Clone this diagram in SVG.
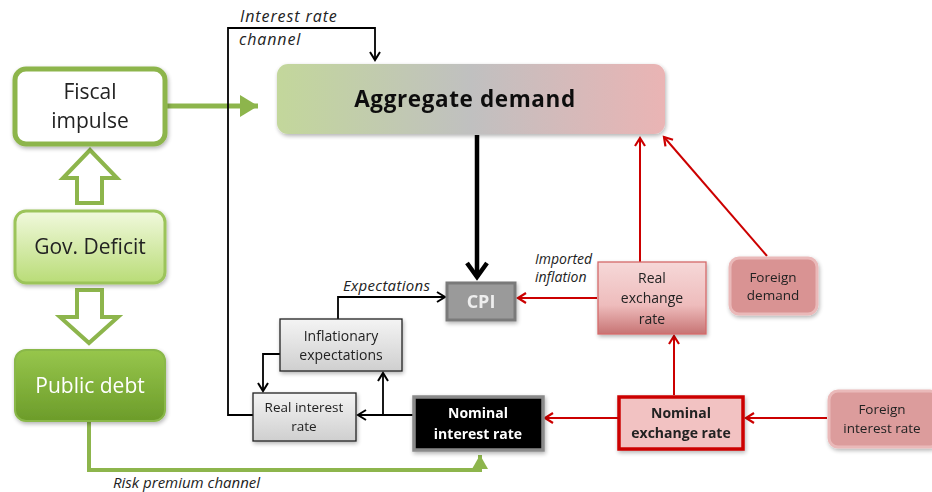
<svg xmlns="http://www.w3.org/2000/svg" width="932" height="492" viewBox="0 0 932 492">
<defs>
<style>
text{font-family:"Open Sans","Noto Sans","Liberation Sans",sans-serif;text-anchor:middle;fill:#222}
.it{font-style:italic;font-size:14px;text-anchor:start;fill:#222}
.sm{font-size:14px}
.big{font-size:21px}
.bold{font-weight:bold}
.blk{fill:none;stroke:#000;stroke-width:1.8}
.red{fill:none;stroke:#cc0000;stroke-width:2}
.grn{fill:none;stroke:#8db54c;stroke-width:5}
</style>
<filter id="sh" x="-10%" y="-10%" width="130%" height="140%"><feGaussianBlur in="SourceAlpha" stdDeviation="2"/><feOffset dx="1" dy="2"/><feComponentTransfer><feFuncA type="linear" slope="0.3"/></feComponentTransfer><feMerge><feMergeNode/><feMergeNode in="SourceGraphic"/></feMerge></filter>
<linearGradient id="gAD" x1="0" y1="0" x2="1" y2="0"><stop offset="0" stop-color="#c3d79b"/><stop offset="0.5" stop-color="#c0c0c0"/><stop offset="1" stop-color="#eab4b4"/></linearGradient>
<linearGradient id="gGov" x1="0" y1="0" x2="0" y2="1"><stop offset="0" stop-color="#f1f9dd"/><stop offset="1" stop-color="#b9dc77"/></linearGradient>
<linearGradient id="gPub" x1="0" y1="0" x2="0" y2="1"><stop offset="0" stop-color="#97c64c"/><stop offset="1" stop-color="#6c9c2a"/></linearGradient>
<linearGradient id="gGrey" x1="0" y1="0" x2="0" y2="1"><stop offset="0" stop-color="#f4f4f4"/><stop offset="1" stop-color="#cfcfcf"/></linearGradient>
<linearGradient id="gRex" x1="0" y1="0" x2="0" y2="1"><stop offset="0" stop-color="#f6d8d8"/><stop offset="0.6" stop-color="#eebcbc"/><stop offset="1" stop-color="#c77474"/></linearGradient>
<marker id="aB" markerUnits="userSpaceOnUse" markerWidth="14" markerHeight="14" refX="11" refY="7" orient="auto"><path d="M3,2 L11,7 L3,12" fill="none" stroke="#000" stroke-width="2"/></marker>
<marker id="aBB" markerUnits="userSpaceOnUse" markerWidth="24" markerHeight="24" refX="20" refY="12" orient="auto"><path d="M6,2 L20,12 L6,22" fill="none" stroke="#000" stroke-width="4.5"/></marker>
<marker id="aR" markerUnits="userSpaceOnUse" markerWidth="14" markerHeight="14" refX="11" refY="7" orient="auto"><path d="M3,2 L11,7 L3,12" fill="none" stroke="#cc0000" stroke-width="2.2"/></marker>
<marker id="aG" markerUnits="userSpaceOnUse" markerWidth="20" markerHeight="22" refX="18" refY="11" orient="auto"><path d="M0,0 L18,11 L0,22 Z" fill="#8db54c"/></marker>
<marker id="aGs" markerUnits="userSpaceOnUse" markerWidth="16" markerHeight="16" refX="14" refY="8" orient="auto"><path d="M0,0 L14,8 L0,16 Z" fill="#8db54c"/></marker>
</defs>
<rect width="932" height="492" fill="#fff"/>

<g id="connectors">
<path class="grn" d="M166,106 H258" marker-end="url(#aG)"/>
<path d="M77,203 V178 H63 L90,150 L117,178 H102 V203 Z" fill="#fff" stroke="#8db54c" stroke-width="4" stroke-linejoin="miter"/>
<path d="M77,290 V317 H60 L89,343 L118,317 H102 V290 Z" fill="#fff" stroke="#8db54c" stroke-width="4" stroke-linejoin="miter"/>
<path class="grn" style="stroke-width:4" d="M89,421 V470 H480 V455" marker-end="url(#aGs)"/>
<path class="blk" d="M253,415 H228 V28 H375 V60" marker-end="url(#aB)"/>
<path d="M477,135 V277" fill="none" stroke="#000" stroke-width="4.5" marker-end="url(#aBB)"/>
<path class="blk" d="M338,319 V297 H445" marker-end="url(#aB)"/>
<path class="blk" d="M280,354 H263 V391" marker-end="url(#aB)"/>
<path class="blk" d="M413,415 H358" marker-end="url(#aB)"/>
<path class="blk" d="M383,415 V373" marker-end="url(#aB)"/>
<path class="red" d="M597,298 H518" marker-end="url(#aR)"/>
<path class="red" d="M640,262 V138" marker-end="url(#aR)"/>
<path class="red" d="M767,256 L664,137" marker-end="url(#aR)"/>
<path class="red" d="M674,395 V336" marker-end="url(#aR)"/>
<path class="red" d="M827,418 H746" marker-end="url(#aR)"/>
<path class="red" d="M618,418 H545" marker-end="url(#aR)"/>
<text class="it" x="240" y="22" style="font-size:16px;letter-spacing:0.9px">Interest rate</text>
<text class="it" x="239" y="45" style="font-size:16px;letter-spacing:0.9px">channel</text>
<text class="it" x="343" y="291" style="font-size:15px;letter-spacing:0.3px">Expectations</text>
<text class="it" x="535" y="264">Imported</text>
<text class="it" x="535" y="282">inflation</text>
<text class="it" x="113" y="488" style="font-size:15px">Risk premium channel</text>
</g>

<g id="fiscal" filter="url(#sh)">
<rect x="15" y="69" width="150" height="75" rx="11" fill="#fff" stroke="#8db54c" stroke-width="5"/>
<text class="big" x="90" y="99">Fiscal</text>
<text class="big" x="90" y="128">impulse</text>
</g>
<g id="gov" filter="url(#sh)">
<rect x="15" y="211" width="150" height="72" rx="11" fill="url(#gGov)" stroke="#9cc45a" stroke-width="3"/>
<text class="big" x="90" y="254">Gov. Deficit</text>
</g>
<g id="public" filter="url(#sh)">
<rect x="15" y="350" width="150" height="71" rx="11" fill="url(#gPub)" stroke="#8ab84a" stroke-width="2"/>
<text class="big" x="90" y="393" style="fill:#fff">Public debt</text>
</g>
<g id="ad" filter="url(#sh)">
<rect x="277" y="64" width="388" height="70" rx="11" fill="url(#gAD)"/>
<text class="bold" x="465" y="107" style="font-size:22.5px;letter-spacing:0.6px;fill:#111">Aggregate demand</text>
</g>
<g id="cpi" filter="url(#sh)">
<rect x="447" y="283" width="68" height="37" fill="#9a9a9a" stroke="#7a7a7a" stroke-width="3"/>
<text class="bold" x="481" y="308" style="font-size:18px;fill:#eee">CPI</text>
</g>
<g id="infl" filter="url(#sh)">
<rect x="280" y="319" width="122" height="52" fill="url(#gGrey)" stroke="#222" stroke-width="1.3"/>
<text class="sm" x="341" y="341">Inflationary</text>
<text class="sm" x="341" y="360">expectations</text>
</g>
<g id="real" filter="url(#sh)">
<rect x="253" y="393" width="103" height="48" fill="url(#gGrey)" stroke="#222" stroke-width="1.3"/>
<text x="304" y="412" style="font-size:13.5px">Real interest</text>
<text x="304" y="431" style="font-size:13.5px">rate</text>
</g>
<g id="nominal" filter="url(#sh)">
<rect x="414" y="397" width="129" height="53" fill="#000" stroke="#8a8a8a" stroke-width="3.5"/>
<text class="sm bold" x="478" y="418" style="fill:#fff">Nominal</text>
<text class="sm bold" x="478" y="439" style="fill:#fff">interest rate</text>
</g>
<g id="rex" filter="url(#sh)">
<rect x="598" y="262" width="108" height="72" fill="url(#gRex)" stroke="#d46a6a" stroke-width="1.3"/>
<text class="sm" x="652" y="283">Real</text>
<text class="sm" x="652" y="303">exchange</text>
<text class="sm" x="652" y="324">rate</text>
</g>
<g id="fdem" filter="url(#sh)">
<rect x="730" y="258" width="87" height="56" rx="9" fill="#d99393" stroke="#eab9b9" stroke-width="3"/>
<text x="773" y="282" style="font-size:13.5px">Foreign</text>
<text x="773" y="300" style="font-size:13.5px">demand</text>
</g>
<g id="nex" filter="url(#sh)">
<rect x="619" y="397" width="124" height="52" fill="#f2c2c2" stroke="#cc0000" stroke-width="3.5"/>
<text class="sm bold" x="681" y="418">Nominal</text>
<text class="sm bold" x="681" y="438">exchange rate</text>
</g>
<g id="fint" filter="url(#sh)">
<rect x="829" y="391" width="110" height="56" rx="9" fill="#dc9c9c" stroke="#eab9b9" stroke-width="3"/>
<text x="882" y="414" style="font-size:13.5px">Foreign</text>
<text x="882" y="433" style="font-size:13.5px">interest rate</text>
</g>
</svg>
